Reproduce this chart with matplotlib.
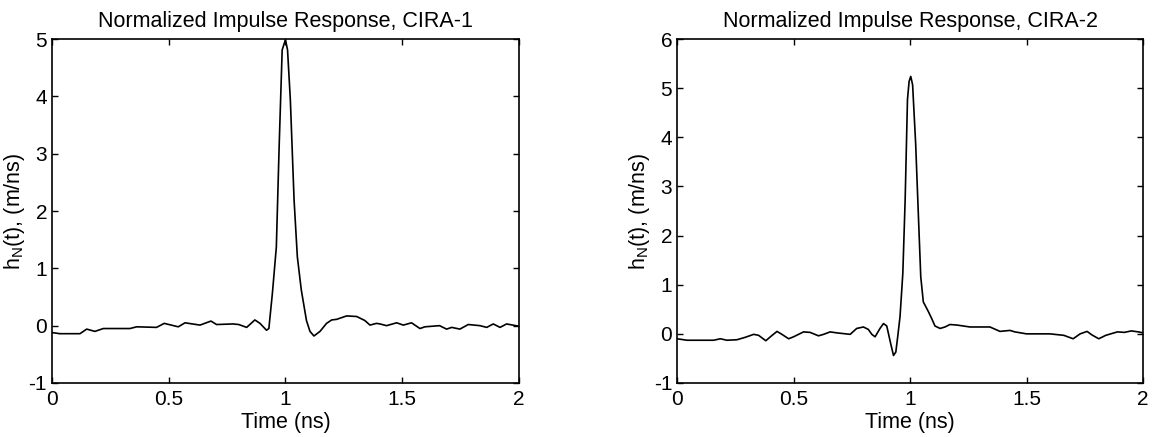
import numpy as np
import matplotlib
matplotlib.use("Agg")
import matplotlib.pyplot as plt

plt.rcParams['font.family'] = ['Liberation Sans', 'DejaVu Sans']
plt.rcParams['mathtext.fontset'] = 'custom'
plt.rcParams['mathtext.rm'] = 'Liberation Sans'
plt.rcParams['axes.unicode_minus'] = False

# CIRA-1 impulse response
t1 = [0.0, 0.034, 0.12, 0.149, 0.184, 0.22, 0.334, 0.363, 0.448, 0.481, 0.541,
      0.57, 0.634, 0.681, 0.705, 0.776, 0.80, 0.834, 0.869, 0.891, 0.919, 0.929,
      0.944, 0.961, 0.973, 0.986, 1.0, 1.009, 1.021, 1.037, 1.051, 1.068, 1.09,
      1.105, 1.122, 1.148, 1.176, 1.198, 1.219, 1.262, 1.305, 1.34, 1.362, 1.39,
      1.405, 1.433, 1.476, 1.505, 1.54, 1.576, 1.597, 1.66, 1.69, 1.712, 1.747,
      1.783, 1.833, 1.862, 1.89, 1.919, 1.947, 2.0]
h1 = [-0.12, -0.14, -0.14, -0.06, -0.10, -0.05, -0.05, -0.02, -0.03, 0.04, -0.02,
      0.05, 0.01, 0.08, 0.02, 0.03, 0.02, -0.03, 0.10, 0.04, -0.08, -0.05,
      0.56, 1.37, 3.12, 4.81, 4.99, 4.81, 3.94, 2.19, 1.20, 0.62, 0.09,
      -0.10, -0.18, -0.10, 0.04, 0.10, 0.11, 0.17, 0.16, 0.09, 0.01, 0.04,
      0.03, 0.0, 0.05, 0.01, 0.05, -0.05, -0.02, 0.0, -0.06, -0.03, -0.06,
      0.02, 0.0, -0.03, 0.03, -0.03, 0.03, -0.01]

# CIRA-2 impulse response
t2 = [0.0, 0.043, 0.157, 0.186, 0.214, 0.257, 0.293, 0.329, 0.35, 0.381, 0.403,
      0.429, 0.45, 0.479, 0.5, 0.543, 0.571, 0.607, 0.629, 0.657, 0.686, 0.743,
      0.771, 0.8, 0.821, 0.836, 0.85, 0.871, 0.886, 0.9, 0.917, 0.929, 0.939,
      0.947, 0.957, 0.969, 0.979, 0.989, 0.996, 1.003, 1.011, 1.024, 1.036,
      1.046, 1.057, 1.079, 1.093, 1.107, 1.129, 1.15, 1.171, 1.2, 1.229, 1.257,
      1.343, 1.386, 1.429, 1.45, 1.5, 1.60, 1.66, 1.70, 1.73, 1.76, 1.78, 1.81,
      1.84, 1.89, 1.92, 1.95, 1.98, 2.0]
h2 = [-0.10, -0.13, -0.13, -0.10, -0.13, -0.12, -0.07, -0.01, -0.03, -0.14, -0.05,
      0.05, -0.01, -0.10, -0.06, 0.04, 0.03, -0.04, -0.01, 0.04, 0.02, -0.01,
      0.11, 0.14, 0.09, -0.01, -0.06, 0.11, 0.21, 0.16, -0.20, -0.44, -0.37,
      -0.06, 0.35, 1.23, 2.73, 4.77, 5.14, 5.24, 5.07, 3.88, 2.39,
      1.16, 0.65, 0.45, 0.31, 0.16, 0.11, 0.14, 0.19, 0.18, 0.16, 0.14,
      0.14, 0.05, 0.07, 0.04, 0.0, 0.0, -0.03, -0.10, 0.0, 0.05, -0.02, -0.10,
      -0.03, 0.04, 0.03, 0.06, 0.04, 0.02]

panels = [
    (t1, h1, (-1, 5), 'Normalized Impulse Response, CIRA-1', [0.045, 0.1236, 0.4047, 0.787]),
    (t2, h2, (-1, 6), 'Normalized Impulse Response, CIRA-2', [0.5867, 0.1236, 0.4038, 0.787]),
]

fig = plt.figure(figsize=(11.54, 4.37), dpi=100)

for t, h, ylim, title, rect in panels:
    ax = fig.add_axes(rect)
    ax.plot(t, h, color='black', lw=1.2)
    ax.set_xlim(0, 2)
    ax.set_ylim(*ylim)
    ax.set_xticks([0, 0.5, 1, 1.5, 2])
    ax.set_xticklabels(['0', '0.5', '1', '1.5', '2'])
    ax.set_yticks(range(ylim[0], ylim[1] + 1))
    ax.tick_params(direction='in', top=True, right=True, length=4, width=1,
                   labelsize=15)
    ax.tick_params(axis='x', pad=5)
    ax.tick_params(axis='y', pad=3.5)
    for s in ax.spines.values():
        s.set_linewidth(1.2)
    ax.set_title(title, fontsize=15.5, pad=9)
    ax.set_xlabel('Time (ns)', fontsize=15.5, labelpad=2)
    ax.set_ylabel(r'h$_\mathregular{N}$(t), (m/ns)', fontsize=15.5, labelpad=1)

fig.savefig('out.png', dpi=100, facecolor='white')
